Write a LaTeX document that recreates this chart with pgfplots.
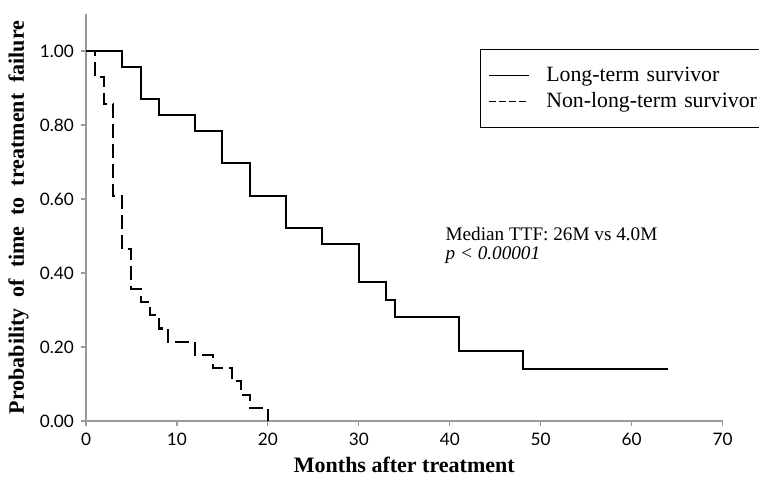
\documentclass[border=0pt]{standalone}
\usepackage{fontspec}
\setmainfont{Liberation Serif}
\newfontfamily\tickfont{Lato}
\usepackage{pgfplots}
\pgfplotsset{compat=1.18}
\usetikzlibrary{calc}

\begin{document}
\begin{tikzpicture}
\begin{axis}[
  name=ax,
  at={(0,0)},
  scale only axis,
  width=318.3pt, height=203.5pt,
  xmin=0, xmax=70, ymin=0, ymax=1.1,
  axis x line*=bottom, axis y line*=left,
  axis line style={draw=black!40, line width=0.6pt},
  xtick={0,10,20,30,40,50,60,70},
  ytick={0,0.2,0.4,0.6,0.8,1},
  yticklabel style={/pgf/number format/.cd, fixed, fixed zerofill, precision=2},
  tick align=outside, major tick length=2.5pt,
  tick style={draw=black!40, line width=0.6pt},
  ticklabel style={font=\tickfont\fontsize{8.6}{10}\selectfont},
  /pgf/number format/assume math mode=true,
  xlabel={Months after treatment},
  ylabel={Probability\ \ of\ \ time\ \ to\ \ treatment\ \ failure},
  xlabel style={font=\bfseries\fontsize{11}{13}\selectfont, at={(axis description cs:0.5,-0.108)}, anchor=center},
  ylabel style={font=\bfseries\fontsize{11}{13}\selectfont, at={(axis description cs:-0.106,0.5)}, anchor=center},
  legend image code/.code={\draw[#1] (0pt,0pt) -- (20pt,0pt);},
  legend style={at={(axis cs:43.3,1.005)}, anchor=north west, draw=black, line width=0.5pt,
    font=\fontsize{10.9}{13}\selectfont, inner xsep=4pt, inner ysep=6.5pt,
    /tikz/every odd column/.style={column sep=6.5pt}},
  legend cell align=left,
]
\addplot[const plot, black, line width=1pt, forget plot] coordinates {
  (0,1) (4,0.957) (6,0.870) (8,0.826) (12,0.783) (15,0.696) (18,0.609)
  (22,0.522) (26,0.478) (30,0.375) (33,0.328) (34,0.281) (41,0.188)
  (48,0.141) (64,0.141)};
\addplot[const plot, black, line width=1pt, dash pattern=on 7pt off 3pt, forget plot] coordinates {
  (0,1) (1,0.929) (2,0.857) (3,0.607) (4,0.464) (5,0.357) (6,0.321)
  (7,0.286) (8,0.25) (9,0.214) (12,0.179) (14,0.143) (16,0.107)
  (17,0.071) (18,0.036) (20,0)};
\addlegendimage{black, line width=0.5pt}
\addlegendentry{Long-term\hspace{0.33em}survivor}
\addlegendimage{black, line width=0.5pt, dash pattern=on 3.5pt off 1.5pt}
\addlegendentry{Non-long-term\hspace{0.33em}survivor}
\node[anchor=base west, inner sep=0pt, font=\fontsize{9.6}{11}\selectfont] at (axis cs:39.5,0.487) {Median TTF: 26M vs 4.0M};
\node[anchor=base west, inner sep=0pt, font=\fontsize{9.6}{11}\selectfont] at (axis cs:39.5,0.437) {\textit{p < 0.00001}};
\end{axis}
\pgfresetboundingbox
\path[use as bounding box] ($(ax.south west)+(-43pt,-27.5pt)$) rectangle ($(ax.south west)+(336.5pt,210.5pt)$);
\end{tikzpicture}
\end{document}
